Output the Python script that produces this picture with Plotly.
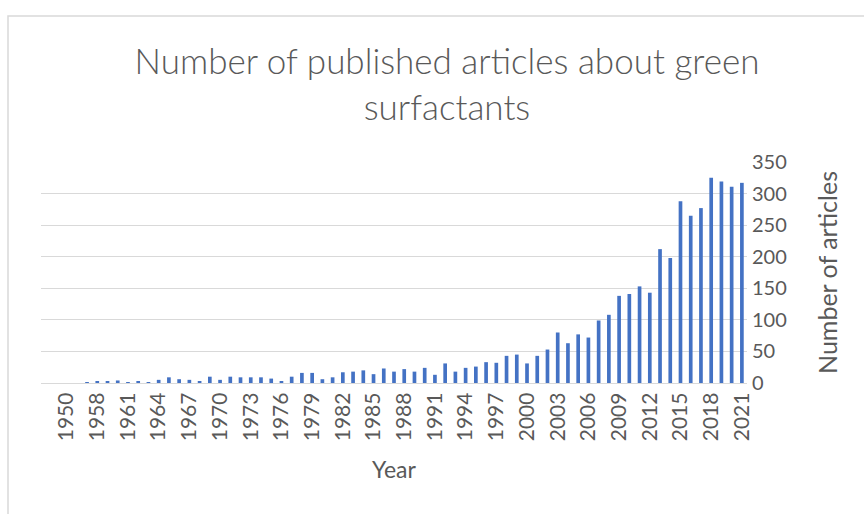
import plotly.graph_objects as go

years = ["1950", "1956", "1957"] + [str(y) for y in range(1958, 2022)]
articles = [0, 0, 1, 2, 2, 4, 1, 3, 1, 5, 9, 6, 5, 2, 10, 5, 10, 9, 9, 9, 7, 3, 10, 16, 16, 6,
            9, 17, 18, 20, 14, 23, 18, 22, 18, 24, 13, 31, 18, 24, 26, 33, 32, 43, 45, 31,
            43, 53, 80, 63, 77, 72, 99, 108, 138, 141, 153, 143, 212, 198, 288, 265, 277,
            325, 319, 311, 317]
tick_labels = years[::3]

title_text = "Number of published articles about green<br>surfactants"
x_title = "Year"
y_title = "Number of articles"

FONT = "Lato"
GREY = "#595959"

W, H = 864, 514
L, R, T, B = 41, 747, 162, 383

fig = go.Figure(go.Bar(x=years, y=articles, marker=dict(color="#4472C4", line=dict(width=0)),
                       width=0.36))

def px_x(p):
    return (p - L) / (R - L)

def px_y(p):
    return (B - p) / (B - T)

fig.update_layout(
    width=W, height=H,
    margin=dict(l=L, r=W - R, t=T, b=H - B, pad=0),
    paper_bgcolor="white", plot_bgcolor="white",
    showlegend=False,
    font=dict(family=FONT, color=GREY),
    title=dict(text=title_text, x=447 / W, xanchor="center", xref="container",
               y=1 - 74 / H, yanchor="middle", yref="container",
               font=dict(family=FONT, size=35, color=GREY, weight=300)),
    xaxis=dict(type="category", range=[-2.5, 66.5], tickmode="array",
               tickvals=tick_labels, ticktext=tick_labels, tickangle=-90,
               tickfont=dict(size=21, color=GREY), showgrid=False,
               showline=True, linecolor="#d9d9d9", linewidth=1.3, ticks="",
               title=dict(text=x_title, font=dict(size=23, color=GREY), standoff=21),
               fixedrange=True),
    yaxis=dict(side="right", range=[0, 350], dtick=50, tick0=0,
               tickfont=dict(size=20, color=GREY), showgrid=True,
               gridcolor="#d9d9d9", gridwidth=1.3, zeroline=False, showline=False,
               ticks="", ticklabelstandoff=4,
               title=dict(text=y_title, font=dict(size=25, color=GREY), standoff=33),
               fixedrange=True),
    shapes=[dict(type="rect", xref="paper", yref="paper",
                 x0=px_x(8), x1=px_x(900), y0=px_y(560), y1=px_y(16),
                 line=dict(color="#d9d9d9", width=1.5), fillcolor="rgba(0,0,0,0)",
                 layer="below")],
)

fig.write_html("out.html", config={"displayModeBar": False},
               post_script="document.body.style.margin='0px';")
